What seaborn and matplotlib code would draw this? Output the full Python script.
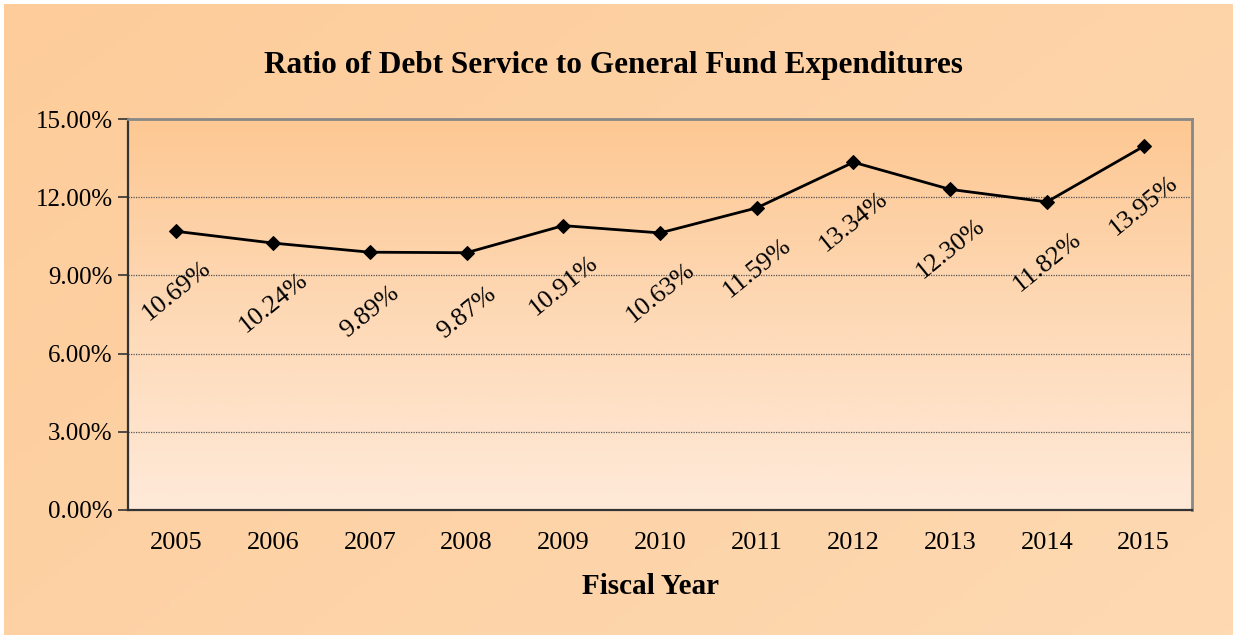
import numpy as np
import pandas as pd
import matplotlib
matplotlib.use("Agg")
import matplotlib.pyplot as plt
import matplotlib.colors as mcolors
import seaborn as sns

# dati
years = ["2005", "2006", "2007", "2008", "2009", "2010", "2011", "2012", "2013", "2014", "2015"]
ratio = [10.69, 10.24, 9.89, 9.87, 10.91, 10.63, 11.59, 13.34, 12.30, 11.82, 13.95]
y_ticks = [0, 3, 6, 9, 12, 15]

df = pd.DataFrame({"pos": np.arange(len(years)), "ratio": ratio})

sns.set_theme(style="white")
plt.rcParams["font.family"] = ["Liberation Serif", "DejaVu Serif"]
plt.rcParams["text.color"] = "black"
plt.rcParams["xtick.color"] = "black"
plt.rcParams["ytick.color"] = "black"

fig = plt.figure(figsize=(12.33, 6.39), dpi=100, facecolor="white")

# sfondo esterno con leggero gradiente
bg = fig.add_axes([4 / 1233, 4 / 639, 1229 / 1233, 631 / 639], zorder=0)
cm_out = mcolors.LinearSegmentedColormap.from_list("out", ["#FDCC9A", "#FED9B2"])
gx, gy = np.meshgrid(np.linspace(0, 1, 200), np.linspace(0, 1, 200))
bg.imshow(0.6 * gx + 0.4 * gy, cmap=cm_out, aspect="auto", extent=[0, 1, 0, 1], origin="upper")
bg.set_axis_off()

ax = fig.add_axes([128 / 1233, 1 - 510 / 639, 1064 / 1233, 391 / 639], zorder=1)

# gradiente verticale dell'area del grafico
cm_in = mcolors.LinearSegmentedColormap.from_list("inn", ["#FDC893", "#FED9B6", "#FEEAD9"])
grad = np.linspace(0, 1, 256).reshape(-1, 1)
ax.imshow(grad, cmap=cm_in, aspect="auto", extent=[-0.5, 10.5, 0, 15], origin="upper", zorder=0)

sns.lineplot(data=df, x="pos", y="ratio", ax=ax, color="black", linewidth=2,
             marker="D", markersize=7, markeredgecolor="black", zorder=3)

for i, v in enumerate(ratio):
    ax.annotate(f"{v:.2f}%", (i, v), xytext=(0, -43), textcoords="offset points",
                ha="center", va="center", rotation=39, fontsize=19, color="black")

ax.set_xlim(-0.5, 10.5)
ax.set_ylim(0, 15)
ax.set_yticks(y_ticks)
ax.set_yticklabels([f"{t:.2f}%" for t in y_ticks], fontsize=18)
ax.set_xticks(np.arange(len(years)))
ax.set_xticklabels(years, fontsize=19)
ax.set_xticks(np.arange(-0.5, 11, 1), minor=True)
ax.tick_params(axis="x", which="major", length=0, pad=16)
ax.tick_params(axis="x", which="minor", length=7, width=1.2, color="#333333", direction="out")
ax.tick_params(axis="y", length=7, width=1.2, color="#333333", direction="out", pad=4, left=True)

for t in [3, 6, 9, 12]:
    ax.axhline(t, color="#555555", linestyle=(0, (1, 1)), linewidth=0.9, zorder=1)

ax.spines["left"].set_color("#333333")
ax.spines["bottom"].set_color("#333333")
ax.spines["left"].set_linewidth(1.6)
ax.spines["bottom"].set_linewidth(1.6)
ax.spines["top"].set_color("#888888")
ax.spines["right"].set_color("#888888")
ax.spines["top"].set_linewidth(2)
ax.spines["right"].set_linewidth(2)

ax.set_xlabel("")
ax.set_ylabel("")

fig.text(613 / 1233, 1 - 66 / 639, "Ratio of Debt Service to General Fund Expenditures",
         ha="center", va="center", fontsize=22.5, fontweight="bold")
fig.text(651 / 1233, 1 - 587 / 639, "Fiscal Year", ha="center", va="center",
         fontsize=21, fontweight="bold")

fig.savefig("out.png", dpi=100, facecolor=fig.get_facecolor())
